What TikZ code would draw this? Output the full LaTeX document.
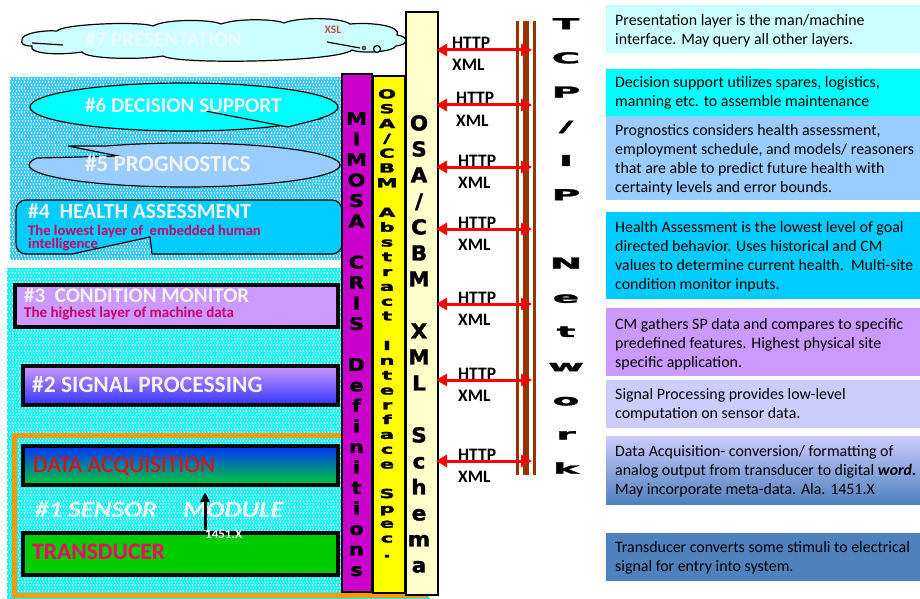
\documentclass[tikz,border=0pt]{standalone}
\usepackage{fontspec}
\setmainfont{Carlito}
\newfontfamily\heavy{DejaVu Sans}[BoldFeatures={FakeBold=1.6}]
\usepackage{graphicx}
\usetikzlibrary{arrows.meta}

\newcommand{\vstack}[3]{\scalebox{#1}[1]{\vbox{\baselineskip=#2pt\lineskiplimit=-100pt\lineskip=0pt\halign{\hfil##\hfil\cr#3\crcr}}}}

\definecolor{bgblue}{HTML}{33CCFF}
\definecolor{bgcyan}{HTML}{00FFFF}
\definecolor{cloudfill}{HTML}{CCFFFF}
\definecolor{dsfill}{HTML}{00FFFF}
\definecolor{progfill}{HTML}{99CCFF}
\definecolor{hafill}{HTML}{00CCFF}
\definecolor{lav}{HTML}{CC99FF}
\definecolor{spblue}{HTML}{3333FF}
\definecolor{daqtop}{HTML}{0033FF}
\definecolor{daqbot}{HTML}{00CC33}
\definecolor{transgreen}{HTML}{00CC00}
\definecolor{orng}{HTML}{FF9900}
\definecolor{mag}{HTML}{CC00CC}
\definecolor{ylw}{HTML}{FFFF00}
\definecolor{lylw}{HTML}{FFFFCC}
\definecolor{brn}{HTML}{993300}
\definecolor{subred}{HTML}{CC0066}
\definecolor{titlegray}{HTML}{F2F2F2}
\definecolor{xslred}{HTML}{C0504D}
\definecolor{transred}{HTML}{FF0066}
\definecolor{rA}{HTML}{CCFFFF}
\definecolor{rB}{HTML}{00FFFF}
\definecolor{rC}{HTML}{99CCFF}
\definecolor{rD}{HTML}{00CCFF}
\definecolor{rE}{HTML}{CC99FF}
\definecolor{rF}{HTML}{CCCCFF}
\definecolor{rH}{HTML}{4F81BD}

\begin{document}
\begin{tikzpicture}[x=1pt,y=-1pt,
  ltitle/.style={font=\bfseries\fontsize{21}{24}\selectfont, text=titlegray, anchor=base west, inner sep=0},
  lsub/.style={font=\bfseries\fontsize{15}{17}\selectfont, text=subred, anchor=base west, inner sep=0},
  rtext/.style={font=\fontsize{15.9}{19}\selectfont, align=left, anchor=west, inner sep=0},
  hxlab/.style={font=\bfseries\fontsize{17.5}{20}\selectfont, anchor=base west, inner sep=0},
  httpar/.style={red, line width=3pt, {Triangle[width=12pt,length=11pt]}-{Triangle[width=12pt,length=11pt]}},
  vtxt/.style={font=\heavy\bfseries, anchor=north, inner sep=0},
  outl/.style={line width=1.2pt},
  dotrow/.style={white, line width=1.1pt, dash pattern=on 1.1pt off 1.9pt}
]
\useasboundingbox (0,0) rectangle (920,599);
\fill[white] (0,0) rectangle (920,599);

% dotted backgrounds
\fill[bgblue] (10,77) rectangle (342,260);
\begin{scope}
  \clip (10,77) rectangle (342,260);
  \foreach \yy in {79,85,...,261} { \draw[dotrow] (10,\yy) -- (342,\yy); }
  \foreach \yy in {82,88,...,261} { \draw[dotrow] (11.5,\yy) -- (342,\yy); }
\end{scope}
\fill[bgcyan] (7,268) rectangle (430,599);
\begin{scope}
  \clip (7,268) rectangle (430,599);
  \foreach \yy in {270,276,...,600} { \draw[dotrow] (7,\yy) -- (430,\yy); }
  \foreach \yy in {273,279,...,600} { \draw[dotrow] (8.5,\yy) -- (430,\yy); }
\end{scope}

% #7 cloud
\filldraw[outl, fill=cloudfill] (22,40)
  .. controls (21,33) and (45,30) .. (57,31)
  .. controls (62,24) and (140,21) .. (153,26)
  .. controls (165,19) and (210,19) .. (221,24)
  .. controls (238,18) and (275,19) .. (284,23)
  .. controls (298,17) and (340,17) .. (350,24)
  .. controls (372,22) and (402,26) .. (397,35)
  .. controls (410,37) and (408,45) .. (396,46)
  .. controls (393,52) and (362,54) .. (352,50)
  .. controls (338,62) and (178,65) .. (163,56)
  .. controls (140,60) and (86,59) .. (82,52)
  .. controls (55,56) and (28,53) .. (32,46)
  .. controls (22,46) and (21,43) .. (22,40) -- cycle;
\draw[outl] (32,43) -- (63,45);
\draw[outl] (327,42) -- (360,48);
\node[circle, draw, fill=gray, minimum size=4, inner sep=0] (bub1) at (364,48) {};
\node[circle, draw, outl, fill=cloudfill, minimum size=7, inner sep=0] (bub2) at (377,49) {};
\node[ltitle, text=white!92!cyan] (t7) at (85,47) {\#7 PRESENTATION};
\node[font=\bfseries\fontsize{11.5}{13}\selectfont, text=xslred, inner sep=0] (xsl) at (333,30) {XSL};

% #6 decision support
\filldraw[outl, fill=dsfill] (184,107) ellipse [x radius=154, y radius=24];
\fill[dsfill] (323,118) -- (288,127) -- (200,110) -- cycle;
\draw[outl] (200,110) -- (288,127) -- (323,118);
\node[ltitle] (t6) at (85,113) {\#6 DECISION SUPPORT};

% #5 prognostics
\filldraw[outl, fill=progfill] (184.5,165) ++(240:155.5 and 22) arc[start angle=240, end angle=558.5, x radius=155.5, y radius=22] -- (118,156) -- (68,146) -- cycle;
\node[ltitle, font=\bfseries\fontsize{23}{26}\selectfont] (t5) at (85,171) {\#5 PROGNOSTICS};

% #4 health assessment
\fill[hafill, even odd rule] [rounded corners=10] (16,200) rectangle (342,254) [sharp corners] (72,254.5) -- (150,237) -- (152,254.5) -- cycle;
\draw[outl, rounded corners=10] (72,254) -- (16,254) -- (16,200) -- (342,200) -- (342,254) -- (152,254);
\draw[outl] (152,254) -- (150,237) -- (72,254);
\node[ltitle, font=\bfseries\fontsize{21.5}{24}\selectfont] (t4) at (28,218.5) {\#4\ \ HEALTH ASSESSMENT};
\node[lsub, font=\bfseries\fontsize{14.6}{17}\selectfont] (t4a) at (28,235) {The lowest layer of\ \ embedded human};
\node[lsub, font=\bfseries\fontsize{14.6}{17}\selectfont] (t4b) at (28,248.5) {intelligence};

% #3 condition monitor
\draw[line width=4pt, fill=lav] (15,285) rectangle (338,327);
\node[ltitle] (t3) at (24,302) {\#3\ \ CONDITION MONITOR};
\node[lsub] (t3a) at (24,317.5) {The highest layer of machine data};

% #2 signal processing
\draw[line width=4pt, top color=lav, bottom color=spblue] (23,366) rectangle (338,405);
\node[ltitle, font=\bfseries\fontsize{23.5}{26}\selectfont] (t2) at (32,392) {\#2 SIGNAL PROCESSING};

% #1 sensor module
\draw[orng, line width=5pt] (14.5,435.5) rectangle (425,595.5);
\draw[line width=4pt, top color=daqtop, bottom color=daqbot] (23,446) rectangle (338,485);
\node[ltitle, font=\fontsize{23.5}{26}\selectfont, text=red] (tdaq) at (33,472) {DATA ACQUISITION};
\draw[line width=4pt, fill=transgreen] (23,533) rectangle (338,575);
\node[ltitle, font=\bfseries\fontsize{23.5}{26}\selectfont, text=transred] (ttr) at (32,559) {TRANSDUCER};
\node[ltitle, font=\bfseries\itshape\fontsize{23}{26}\selectfont] (t1a) at (35,517) {\scalebox{1.17}[1]{\#1 SENSOR}};
\node[ltitle, font=\bfseries\itshape\fontsize{23}{26}\selectfont] (t1b) at (183,517) {\scalebox{1.17}[1]{MODULE}};
\coordinate (up1) at (205,530);
\coordinate (up2) at (205,492);
\draw[line width=3pt, -{Triangle[width=9pt,length=10pt]}] (up1) -- (up2);
\node[font=\bfseries\fontsize{13}{15}\selectfont, text=white, anchor=base west, inner sep=0] (t1451) at (205,538) {1451.X};

% vertical bars
\draw[line width=1.5pt, fill=mag] (342,74) rectangle (372,592);
\draw[line width=1.5pt, fill=ylw] (373,76) rectangle (405,593);
\draw[line width=1.5pt, fill=lylw] (406,12) rectangle (438,595);

\node[vtxt, font=\heavy\bfseries\fontsize{17.5}{20.5}\selectfont] (vmim) at (356.5,112)
 {\vstack{1.2}{20.5}{M\cr I\cr M\cr O\cr S\cr A\cr {}\cr C\cr R\cr I\cr S\cr {}\cr D\cr e\cr f\cr i\cr n\cr i\cr t\cr i\cr o\cr n\cr s}};
\node[vtxt, font=\heavy\bfseries\fontsize{12.5}{14.8}\selectfont] (vabs) at (387,89)
 {\vstack{1.7}{14.8}{O\cr S\cr A\cr /\cr C\cr B\cr M\cr {}\cr A\cr b\cr s\cr t\cr r\cr a\cr c\cr t\cr {}\cr I\cr n\cr t\cr e\cr r\cr f\cr a\cr c\cr e\cr {}\cr S\cr p\cr e\cr c\cr .}};
\node[vtxt, font=\heavy\bfseries\fontsize{20.5}{26}\selectfont] (vxml) at (419,115)
 {\vstack{1.05}{26}{O\cr S\cr A\cr /\cr C\cr B\cr M\cr {}\cr X\cr M\cr L\cr {}\cr S\cr c\cr h\cr e\cr m\cr a}};

% TCP/IP network
\coordinate (n1t) at (517.5,21); \coordinate (n1b) at (517.5,475);
\coordinate (n2t) at (526,21);   \coordinate (n2b) at (526,475);
\coordinate (n3t) at (534,21);   \coordinate (n3b) at (534,475);
\draw[brn, line width=3pt] (n1t) -- (n1b);
\draw[brn, line width=6pt] (n2t) -- (n2b);
\draw[brn, line width=3pt] (n3t) -- (n3b);
\node[vtxt, font=\heavy\bfseries\fontsize{15}{34.2}\selectfont] (vtcp) at (566,18)
 {\vstack{2.6}{34.2}{T\cr C\cr P\cr /\cr I\cr P\cr {}\cr N\cr e\cr t\cr w\cr o\cr r\cr k}};

\foreach \y/\x [count=\i] in {50/452,105/456,167/458,229/458,304/458,380/458,461/458} {
  \coordinate (hl\i) at (436,\y);
  \coordinate (hr\i) at (532,\y);
  \draw[httpar] (hl\i) -- (hr\i);
  \node[hxlab] (http\i) at (\x,\y-1) {HTTP};
  \node[hxlab] (xml\i) at (\x,\y+21) {XML};
}

% right description boxes
\fill[rA] (606,5) rectangle (920,53);
\fill[rB] (606,69) rectangle (920,116);
\fill[rC] (606,116) rectangle (920,200);
\fill[rD] (606,212) rectangle (920,299);
\fill[rE] (606,308) rectangle (920,376);
\fill[rF] (606,380) rectangle (920,428);
\shade[top color=rF, bottom color=rH] (606,436) rectangle (920,504);
\fill[rH] (606,533) rectangle (920,581);

\node[rtext] (d7) at (615,31) {Presentation layer is the man/machine\\interface. May query all other layers.};
\node[rtext] (d6) at (615,93) {Decision support utilizes spares, logistics,\\manning etc. to assemble maintenance};
\node[rtext] (d5) at (615,160) {Prognostics considers health assessment,\\employment schedule, and models/ reasoners\\that are able to predict future health with\\certainty levels and error bounds.};
\node[rtext] (d4) at (615,257) {Health Assessment is the lowest level of goal\\directed behavior. Uses historical and CM\\values to determine current health.\ \ Multi-site\\condition monitor inputs.};
\node[rtext] (d3) at (615,344) {CM gathers SP data and compares to specific\\predefined features. Highest physical site\\specific application.};
\node[rtext] (d2) at (615,405) {Signal Processing provides low-level\\computation on sensor data.};
\node[rtext] (d1) at (615,471) {Data Acquisition- conversion/ formatting of\\analog output from transducer to digital \textbf{\textit{word.}}\\May incorporate meta-data. Ala. 1451.X};
\node[rtext] (d0) at (615,558) {Transducer converts some stimuli to electrical\\signal for entry into system.};
\end{tikzpicture}
\end{document}
